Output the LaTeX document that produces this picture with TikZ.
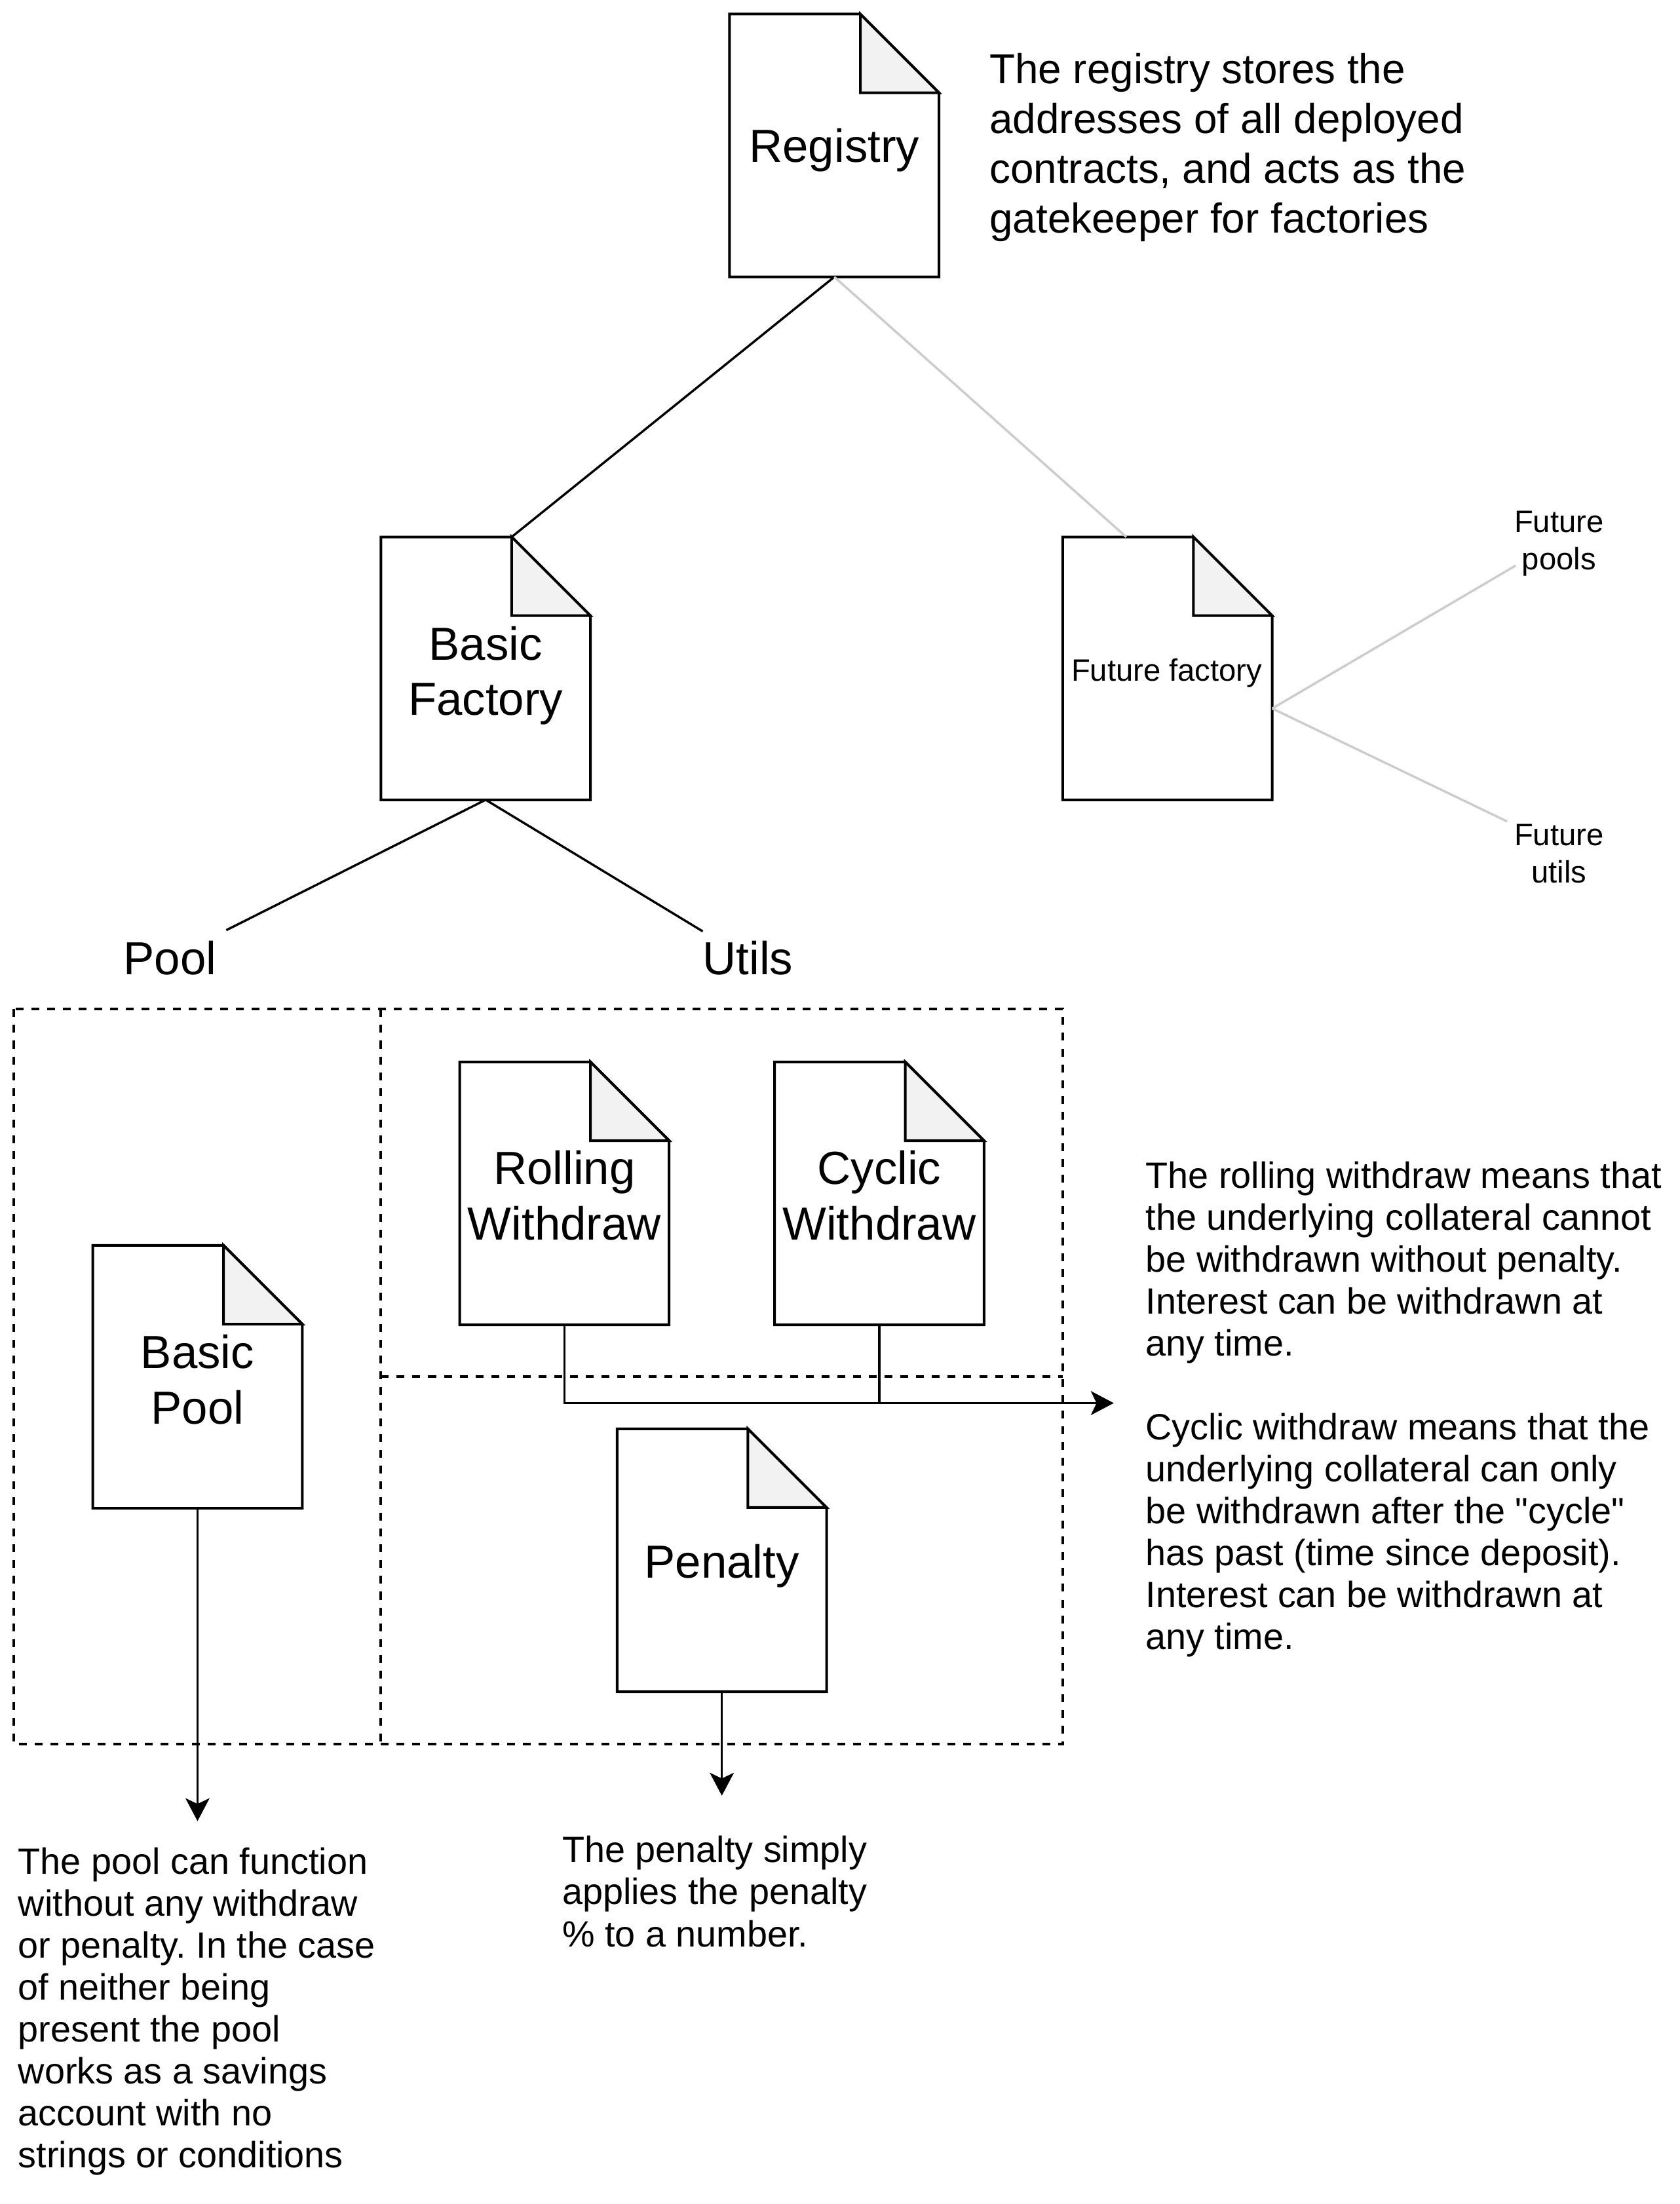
\documentclass[tikz,border=0pt]{standalone}
\usepackage{fontspec}
\setmainfont{Liberation Sans}[Ligatures=TeXOff]
\usetikzlibrary{arrows.meta}
\frenchspacing
\newcommand{\lefttext}[1]{\vtop{\halign{##\hfil\cr#1\crcr}}}
\newcommand{\midtext}[1]{\vtop{\halign{\hfil##\hfil\cr#1\crcr}}}
\tikzset{
  docbox/.style={draw=none, minimum width=111.75pt, minimum height=140.25pt, inner sep=0pt, outer sep=0pt},
  docline/.style={line width=1.4pt, fill=white},
  foldline/.style={line width=1.4pt, fill=gray!10},
  txt/.style={inner sep=0pt, outer sep=0pt},
  doclabel/.style={txt, anchor=base, font=\fontsize{24.75pt}{29.6pt}\selectfont},
  smalllabel/.style={txt, anchor=base, font=\fontsize{16.5pt}{19.8pt}\selectfont},
  desc/.style={txt, anchor=base west, font=\fontsize{19.5pt}{22.4pt}\selectfont},
  bigdesc/.style={txt, anchor=base west, font=\fontsize{22.3pt}{26.6pt}\selectfont},
  link/.style={line width=1.2pt},
  faint/.style={line width=1.2pt, draw=gray!40},
  flow/.style={line width=1.2pt, -{Stealth[length=12.2pt, width=12.8pt, inset=3pt]}},
  groupbox/.style={line width=1.4pt, dash pattern=on 4.2pt off 4.2pt},
}
\newcommand{\docshape}[3]{%
  \node[docbox] (#1) at (#2,#3) {};
  \draw[docline] (#1.south west) -- (#1.north west) -- ([xshift=-42pt]#1.north east) -- ([yshift=-42pt]#1.north east) -- (#1.south east) -- cycle;
  \draw[foldline] ([xshift=-42pt]#1.north east) -- ([xshift=-42pt,yshift=-42pt]#1.north east) -- ([yshift=-42pt]#1.north east) -- cycle;
}
\begin{document}
\frenchspacing
\begin{tikzpicture}[x=0.75pt, y=-0.75pt]
\useasboundingbox (0,0) rectangle (1195,1568);

% dashed groups
\draw[groupbox] (10,718) rectangle (756,1241);
\draw[groupbox] (271,718) -- (271,1241);
\draw[groupbox] (271,979.5) -- (756,979.5);

% documents
\docshape{reg}{593.5}{103.5}
\docshape{bf}{345.5}{475.5}
\docshape{ff}{830.5}{475.5}
\docshape{rw}{401.5}{849}
\docshape{cw}{625.5}{849}
\docshape{bp}{140.5}{979.5}
\docshape{pen}{513.5}{1110}

% document labels
\node[doclabel] (regl) at (593.5,115.5) {Registry};
\node[doclabel] (bfl) at (345.5,469.5) {\midtext{Basic\cr Factory}};
\node[smalllabel] (ffl) at (830,484.7) {Future factory};
\node[doclabel] (rwl) at (401.5,842.5) {\midtext{Rolling\cr Withdraw}};
\node[doclabel] (cwl) at (625.5,842.5) {\midtext{Cyclic\cr Withdraw}};
\node[doclabel] (bpl) at (140.5,973.5) {\midtext{Basic\cr Pool}};
\node[doclabel] (penl) at (513.5,1122.5) {Penalty};

% other labels
\node[doclabel] (pool) at (121,693.5) {Pool};
\node[doclabel] (utils) at (532,693.5) {Utils};
\node[smalllabel] (fp) at (1109,378.7) {\midtext{Future\cr pools}};
\node[smalllabel] (fu) at (1109,601.7) {\midtext{Future\cr utils}};

% descriptions
\node[bigdesc] (regdesc) at (704,59.4) {\lefttext{The registry stores the\cr addresses of all deployed\cr contracts, and acts as the\cr gatekeeper for factories}};
\node[desc] (wdesc) at (815,845.1) {\lefttext{The rolling withdraw means that\cr the underlying collateral cannot\cr be withdrawn without penalty.\cr Interest can be withdrawn at\cr any time.\cr \cr Cyclic withdraw means that the\cr underlying collateral can only\cr be withdrawn after the "cycle"\cr has past (time since deposit).\cr Interest can be withdrawn at\cr any time.}};
\node[desc] (pooldesc) at (13,1333.1) {\lefttext{The pool can function\cr without any withdraw\cr or penalty. In the case\cr of neither being\cr present the pool\cr works as a savings\cr account with no\cr strings or conditions}};
\node[desc] (pendesc) at (400,1325.1) {\lefttext{The penalty simply\cr applies the penalty\cr \% to a number.}};

% connectors
\draw[link] (reg.south) -- ([xshift=-42pt]bf.north east);
\draw[faint] (reg.south) -- ([xshift=-22pt]ff.north);
\draw[faint] ([yshift=-21.4pt]ff.east) -- ([xshift=0.75pt,yshift=-11.8pt]fp.west);
\draw[faint] ([yshift=-21.4pt]ff.east) -- ([xshift=-3.75pt,yshift=1.6pt]fu.north west);
\draw[link] (bf.south) -- ([xshift=5.25pt,yshift=5.9pt]pool.north east);
\draw[link] (bf.south) -- ([yshift=5.25pt]utils.north west);

\coordinate (rwend) at (792.3,998.2);
\draw[flow] (rw.south) |- (rwend);
\draw[link] (cw.south) -- (cw.south |- rwend);
\coordinate (bpend) at (140.5,1295.6);
\draw[flow] (bp.south) -- (bpend);
\coordinate (penend) at (513.5,1277.5);
\draw[flow] (pen.south) -- (penend);
\end{tikzpicture}
\end{document}
